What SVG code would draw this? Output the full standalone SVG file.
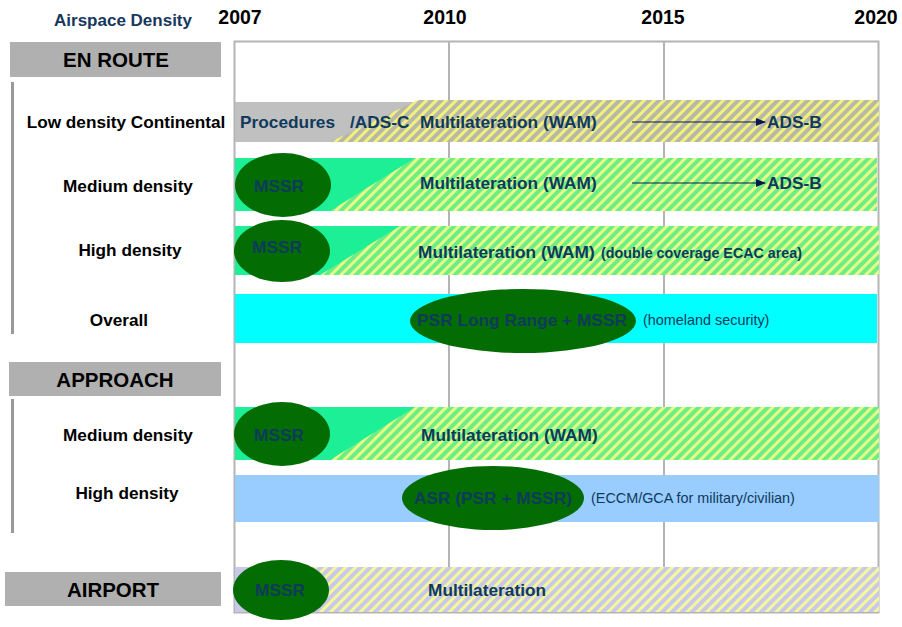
<svg xmlns="http://www.w3.org/2000/svg" width="902" height="627" viewBox="0 0 902 627">
<style>
.yr{font-family:"Liberation Sans",Arial,sans-serif;font-weight:bold;font-size:19.5px;fill:#000;text-anchor:middle}
.hd{font-family:"Liberation Sans",Arial,sans-serif;font-weight:bold;font-size:20.5px;fill:#000;text-anchor:middle}
.rl{font-family:"Liberation Sans",Arial,sans-serif;font-weight:bold;font-size:17.2px;fill:#000;text-anchor:middle}
.t{font-family:"Liberation Sans",Arial,sans-serif;font-weight:bold;font-size:17.3px;fill:#0f3a5c}
.ts{font-family:"Liberation Sans",Arial,sans-serif;font-size:14.4px;fill:#0f3a5c}
.tsb{font-family:"Liberation Sans",Arial,sans-serif;font-weight:bold;font-size:14.3px;fill:#0f3a5c}
.box{fill:#b0b0b0}
.bar{fill:#999}
.ell{fill:#036c03}
.grid{stroke:#b4b4b4;stroke-width:2;fill:none}
.arr{stroke:#0a1850;stroke-width:1.2;fill:none}
</style>
<defs>
<pattern id="hg" patternUnits="userSpaceOnUse" width="7" height="7" patternTransform="rotate(45)">
<rect width="7" height="7" fill="#b8b8a8"/><rect width="3" height="7" fill="#f2f27a"/>
</pattern>
<pattern id="hgr" patternUnits="userSpaceOnUse" width="7" height="7" patternTransform="rotate(45)">
<rect width="7" height="7" fill="#6cee84"/><rect width="3" height="7" fill="#e6fb88"/>
</pattern>
<pattern id="hl" patternUnits="userSpaceOnUse" width="7" height="7" patternTransform="rotate(45)">
<rect width="7" height="7" fill="#c8c8e8"/><rect width="3" height="7" fill="#f6f69a"/>
</pattern>
<marker id="ah" markerWidth="10" markerHeight="8" refX="9" refY="4" orient="auto" markerUnits="userSpaceOnUse">
<path d="M0,0 L10,4 L0,8 Z" fill="#0a1850"/>
</marker>
</defs>
<rect width="902" height="627" fill="#fff"/>

<g id="header">
<text x="123" y="26" font-family="Liberation Sans, Arial, sans-serif" font-weight="bold" font-size="17" fill="#17375e" text-anchor="middle">Airspace Density</text>
<text class="yr" x="240" y="24">2007</text>
<text class="yr" x="445" y="24">2010</text>
<text class="yr" x="663" y="24">2015</text>
<text class="yr" x="876" y="24">2020</text>
</g>

<g id="grid">
<rect class="grid" x="234.5" y="41.5" width="644" height="571"/>
<line class="grid" x1="449" y1="42" x2="449" y2="612"/>
<line class="grid" x1="664" y1="42" x2="664" y2="612"/>
</g>

<g id="enroute-header">
<rect class="box" x="10" y="42" width="211" height="35"/>
<text class="hd" x="116" y="67">EN ROUTE</text>
<rect class="bar" x="11" y="82" width="3" height="252"/>
</g>
<g id="approach-header">
<rect class="box" x="9" y="362" width="212" height="34"/>
<text class="hd" x="115" y="387">APPROACH</text>
<rect class="bar" x="11" y="399" width="3" height="134"/>
</g>
<g id="airport-header">
<rect class="box" x="5" y="572" width="216" height="34"/>
<text class="hd" x="113" y="597">AIRPORT</text>
</g>

<g id="row-labels">
<text class="rl" x="126" y="128">Low density Continental</text>
<text class="rl" x="128" y="192">Medium density</text>
<text class="rl" x="130" y="256">High density</text>
<text class="rl" x="119" y="326">Overall</text>
<text class="rl" x="128" y="441">Medium density</text>
<text class="rl" x="127" y="499">High density</text>
</g>

<g id="row-low-density">
<rect x="235" y="102" width="190" height="40" fill="#c0c0c0"/>
<polygon points="418,100 879,100 879,142 330,142" fill="url(#hg)"/>
<text class="t" x="240" y="128">Procedures</text>
<text class="t" x="350" y="128">/ADS-C</text>
<text class="t" x="420" y="128">Multilateration (WAM)</text>
<text class="t" x="767" y="128">ADS-B</text>
</g>

<g id="row-medium-density">
<rect x="235" y="158" width="190" height="53" fill="#1cef96"/>
<polygon points="415,158 877,158 877,211 330,211" fill="url(#hgr)"/>
<ellipse class="ell" cx="283" cy="185" rx="48" ry="32"/>
<text class="t" x="279" y="192" text-anchor="middle">MSSR</text>
<text class="t" x="420" y="189">Multilateration (WAM)</text>
<text class="t" x="767" y="189">ADS-B</text>
</g>

<g id="row-high-density">
<rect x="235" y="226" width="180" height="49" fill="#1cef96"/>
<polygon points="400,226 879,226 879,275 320,275" fill="url(#hgr)"/>
<ellipse class="ell" cx="282" cy="251" rx="48" ry="31"/>
<text class="t" x="277" y="253" text-anchor="middle">MSSR</text>
<text class="t" x="418" y="258">Multilateration (WAM)</text>
<text class="tsb" x="601" y="258">(double coverage ECAC area)</text>
</g>

<g id="row-overall">
<rect x="235" y="294" width="642" height="49" fill="#00ffff"/>
<ellipse class="ell" cx="523" cy="321" rx="113" ry="32"/>
<text class="t" x="522" y="326" text-anchor="middle">PSR Long Range + MSSR</text>
<text class="ts" x="643" y="325">(homeland security)</text>
</g>

<g id="row-approach-medium">
<rect x="235" y="407" width="190" height="53" fill="#1cef96"/>
<polygon points="415,407 879,407 879,460 330,460" fill="url(#hgr)"/>
<ellipse class="ell" cx="282" cy="434" rx="48" ry="32"/>
<text class="t" x="279" y="441" text-anchor="middle">MSSR</text>
<text class="t" x="421" y="441">Multilateration (WAM)</text>
</g>

<g id="row-approach-high">
<rect x="235" y="475" width="644" height="47" fill="#99ccff"/>
<ellipse class="ell" cx="493" cy="498" rx="91" ry="32"/>
<text class="t" x="493" y="504" text-anchor="middle">ASR (PSR + MSSR)</text>
<text class="ts" x="591" y="503">(ECCM/GCA for military/civilian)</text>
</g>

<g id="row-airport">
<rect x="235" y="567" width="644" height="45" fill="url(#hl)"/>
<rect x="235" y="567" width="40" height="45" fill="#c8c8e8"/>
<ellipse class="ell" cx="281" cy="590" rx="48" ry="30"/>
<text class="t" x="280" y="596" text-anchor="middle">MSSR</text>
<text class="t" x="428" y="596">Multilateration</text>
</g>

<g id="connectors">
<line class="arr" x1="632" y1="122" x2="765" y2="122" marker-end="url(#ah)"/>
<line class="arr" x1="632" y1="183" x2="765" y2="183" marker-end="url(#ah)"/>
</g>
</svg>
